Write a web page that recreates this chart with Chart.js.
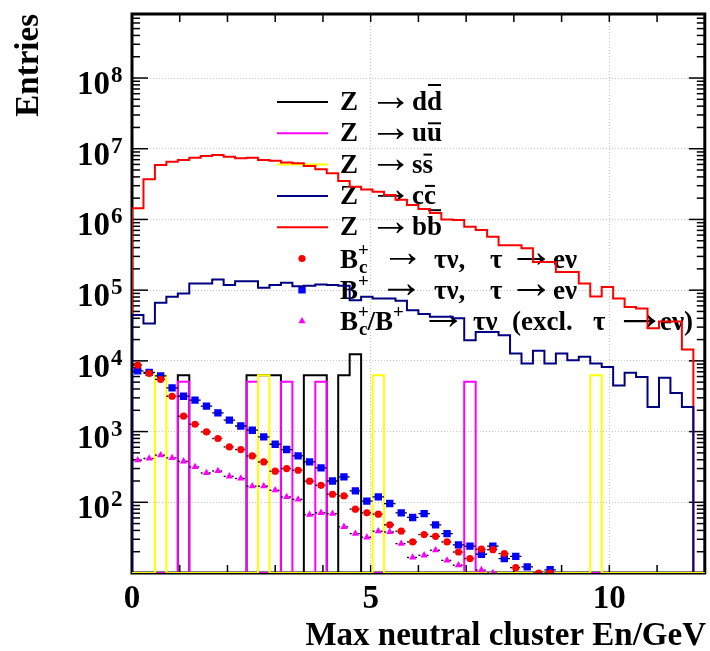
<!DOCTYPE html>
<html><head><meta charset="utf-8">
<script src="https://cdn.jsdelivr.net/npm/chart.js@4/dist/chart.umd.min.js"></script>
<style>html,body{margin:0;padding:0;background:#fff;}#wrap{width:710px;height:651px;}</style>
</head><body><div id="wrap"><canvas id="c" width="710" height="651"></canvas></div>
<script>
// ---------------- data ----------------
const X_MIN = 0, X_MAX = 12, BIN_WIDTH = 0.24;
const Y_MIN = 10, Y_MAX = 8.04e8;
const X_TICK_LABELS = [0, 5, 10];
const Y_TICK_EXPONENTS = [2, 3, 4, 5, 6, 7, 8];
const X_TITLE = 'Max neutral cluster En/GeV';
const Y_TITLE = 'Entries';

// Z -> d dbar
const zdd = [0,0,0,0,6280,0,0,0,0,0, 6280,6280,6280,0,0,6280,6280,0,6280,12400, 0,0,0,0,0,0,0,0,0,0, 0,0,0,0,0,0,0,0,0,0, 0,0,0,0,0,0,0,0,0,0];
// Z -> u ubar
const zuu = [0,0,0,0,5050,0,0,0,0,0, 5050,0,0,5050,0,0,5050,0,0,0, 0,0,0,0,0,0,0,0,0,5050, 0,0,0,0,0,0,0,0,0,0, 0,0,0,0,0,0,0,0,0,0];
// Z -> s sbar
const zss = [0,0,6280,0,0,0,0,0,0,0, 0,6280,0,0,0,0,0,0,0,0, 0,6280,0,0,0,0,0,0,0,0, 0,0,0,0,0,0,0,0,0,0, 6280,0,0,0,0,0,0,0,0,0];
// Z -> c cbar
const zcc = [4.44e4,3.38e4,6.62e4,8.05e4,9.0e4,1.245e5,1.245e5,1.42e5,1.18e5,1.34e5,
             1.34e5,1.08e5,1.18e5,1.27e5,1.14e5,1.15e5,1.2e5,1.18e5,1.15e5,7.2e4,
             8.05e4,7.6e4,7.6e4,7.1e4,5.2e4,4.6e4,4.2e4,4.2e4,4.0e4,1.95e4,
             2.57e4,2.57e4,2.31e4,1.27e4,9.2e3,1.39e4,9.2e3,1.27e4,1.02e4,1.14e4,
             9.2e3,8.2e3,4.5e3,6.8e3,5.9e3,2.23e3,5.75e3,3.5e3,2.23e3,0];
// Z -> b bbar
const zbb = [1.44e6,3.69e6,5.87e6,6.55e6,6.92e6,7.46e6,7.89e6,8.15e6,7.71e6,7.31e6,
             7.46e6,6.92e6,6.76e6,6.41e6,6.21e6,5.69e6,5.11e6,4.49e6,3.49e6,2.9e6,
             2.66e6,2.46e6,2.21e6,1.9e6,1.6e6,1.4e6,1.23e6,1.0e6,9.8e5,7.9e5,
             7.1e5,5.7e5,4.3e5,4.3e5,3.9e5,2.5e5,2.5e5,1.8e5,1.8e5,1.24e5,
             8.1e4,1.11e5,7.6e4,5.8e4,5.5e4,2.9e4,3.6e4,3.6e4,1.45e4,0];
// Bc+ -> tau nu, tau -> e nu   (per bin, null = empty)
const bcTauE = [8690,6640,5460,3160,1650,1270,989,798,607,557,
                453,372,275,300,284,199,174,130,123,80,
                71,68,48,39,27.5,35,33,27.5,19.8,16,
                21.7,21.4,18.8,11.9,null,10,10];
// B+ -> tau nu, tau -> e nu
const buTauE = [7230,6860,6140,4150,3160,2780,2290,1840,1450,1200,
                1045,841,662,557,453,372,306,200,229,145,
                104,119,96,71,61,69,48,36,25,24,
                18.4,24,16,17.2,12.2,null,11.1];
// Bc+/B+ -> tau nu (excl. tau -> e nu)
const bTauOther = [394,416,463,424,380,316,260,277,233,217,
                   169,169,148,119,110,67,71,69,45,36,
                   32,39,38,26,16.6,17.8,21,15.1,12.9,null,
                   11,10];

// ---------------- helpers ----------------
function histPoints(vals) {
  const pts = [{x: X_MIN, y: Y_MIN}];
  vals.forEach((v, i) => pts.push({x: X_MIN + i * BIN_WIDTH, y: v > 0 ? v : Y_MIN}));
  const last = vals[vals.length - 1];
  pts.push({x: X_MIN + vals.length * BIN_WIDTH, y: last > 0 ? last : Y_MIN});
  pts.push({x: X_MIN + vals.length * BIN_WIDTH, y: Y_MIN});
  return pts;
}
function markerPoints(vals) {
  return vals.map((v, i) => ({x: X_MIN + (i + 0.5) * BIN_WIDTH, y: v}));
}
function histDS(label, vals, color) {
  return {label, type: 'line', data: histPoints(vals), borderColor: color, borderWidth: 2,
          stepped: 'before', pointRadius: 0, fill: false, tension: 0};
}
function markerDS(label, vals, color, style, r, dash) {
  return {label, type: 'line', data: markerPoints(vals), showLine: false, pointStyle: style,
          pointRadius: r, backgroundColor: color, borderColor: color, borderWidth: 0,
          hbar: {dash}};
}

const FONT = '"Liberation Serif", "Times New Roman", serif';

const errBars = {
  id: 'errbars',
  beforeDatasetDraw(chart, args) {
    const ds = chart.data.datasets[args.index];
    if (!ds.hbar) return;
    const {ctx, chartArea: a, scales: {x, y}} = chart;
    ctx.save();
    ctx.beginPath(); ctx.rect(a.left, a.top, a.right - a.left, a.bottom - a.top); ctx.clip();
    ctx.strokeStyle = '#000'; ctx.lineWidth = 1.3; ctx.setLineDash(ds.hbar.dash);
    ds.data.forEach(p => {
      if (p.y == null) return;
      const py = y.getPixelForValue(p.y);
      ctx.beginPath();
      ctx.moveTo(x.getPixelForValue(p.x - BIN_WIDTH / 2), py);
      ctx.lineTo(x.getPixelForValue(p.x + BIN_WIDTH / 2), py);
      ctx.stroke();
    });
    ctx.restore();
  }
};

function seg(ctx, x1, y1, x2, y2) { ctx.beginPath(); ctx.moveTo(x1, y1); ctx.lineTo(x2, y2); ctx.stroke(); }
function txt(ctx, s, x, y, size, align) {
  ctx.font = `bold ${size}px ${FONT}`; ctx.textAlign = align || 'left'; ctx.fillText(s, x, y);
  return ctx.measureText(s).width;
}
// arrow glyph sized so that its ink spans `width` px, vertically centred on the row
function arrow(ctx, x, yc, width) {
  ctx.save();
  ctx.textAlign = 'left'; ctx.textBaseline = 'alphabetic';
  ctx.font = `bold 40px ${FONT}`;
  let m = ctx.measureText('→');
  let ink = (m.actualBoundingBoxRight + m.actualBoundingBoxLeft) || m.width * 0.8;
  const size = 40 * width / ink;
  ctx.font = `bold ${size}px ${FONT}`;
  m = ctx.measureText('→');
  const top = m.actualBoundingBoxAscent, bot = m.actualBoundingBoxDescent;
  const mid = (top - bot) / 2;          // glyph centre above baseline
  ctx.fillText('→', x + (m.actualBoundingBoxLeft || 0), yc + mid);
  ctx.restore();
}

const LEG = {x0: 277, x1: 328, xm: 302, xt: 340, y0: 102, dy: 31.3, fs: 27, sfs: 19};

const decor = {
  id: 'decor',
  beforeDatasetsDraw(chart) {
    const {ctx, chartArea: a, scales: {x, y}} = chart;
    ctx.save();
    ctx.strokeStyle = '#000'; ctx.fillStyle = '#000';
    // ticks
    ctx.lineWidth = 1.5;
    for (let v = Math.ceil(X_MIN) + 1; v < X_MAX; v++) {
      const px = x.getPixelForValue(v);
      seg(ctx, px, a.bottom, px, a.bottom - 8); seg(ctx, px, a.top, px, a.top + 8);
    }
    for (let e = 1; e <= 9; e++) for (let m = 1; m <= 9; m++) {
      const v = m * Math.pow(10, e);
      if (v <= Y_MIN || v >= Y_MAX) continue;
      const py = y.getPixelForValue(v), len = m === 1 ? 16 : 8;
      seg(ctx, a.left, py, a.left + len, py); seg(ctx, a.right, py, a.right - len, py);
    }
    // frame
    ctx.lineWidth = 3;
    ctx.strokeRect(a.left, a.top, a.right - a.left, a.bottom - a.top);
    // tick labels
    ctx.textBaseline = 'alphabetic';
    X_TICK_LABELS.forEach(v => txt(ctx, String(v), x.getPixelForValue(v), 608, 33, 'center'));
    Y_TICK_EXPONENTS.forEach(e => {
      const py = y.getPixelForValue(Math.pow(10, e));
      txt(ctx, '10', 110, py + 16, 33, 'right');
      txt(ctx, String(e), 111, py + 4, 23, 'left');
    });
    // titles
    txt(ctx, X_TITLE, 706, 645, 33, 'right');
    ctx.save(); ctx.translate(38, 14); ctx.rotate(-Math.PI / 2);
    txt(ctx, Y_TITLE, 0, 0, 33, 'right'); ctx.restore();

    // legend (drawn under the histograms, as in the original)
    const ds = chart.data.datasets;
    const rows = [
      {ds: 'Z → dd', q: 'd'}, {ds: 'Z → uu', q: 'u'}, {ds: 'Z → ss', q: 's'},
      {ds: 'Z → cc', q: 'c'}, {ds: 'Z → bb', q: 'b'}
    ];
    rows.forEach((r, k) => {
      const d = ds.find(z => z.label === r.ds);
      const yy = LEG.y0 + k * LEG.dy;
      ctx.strokeStyle = d.borderColor; ctx.lineWidth = 2; seg(ctx, LEG.x0, yy, LEG.x1, yy);
      ctx.fillStyle = '#000';
      const b = yy + 8;
      txt(ctx, 'Z', LEG.xt, b, LEG.fs);
      arrow(ctx, 377, yy, 26);
      const w1 = txt(ctx, r.q, 412, b, LEG.fs);
      const w2 = txt(ctx, r.q, 412 + w1, b, LEG.fs);
      const hi = (r.q === 'd' || r.q === 'b') ? 25 : 18;
      ctx.strokeStyle = '#000'; ctx.lineWidth = 2;
      seg(ctx, 412 + w1 + 1, b - hi, 412 + w1 + w2 - 1, b - hi);
    });
    // marker rows
    const mk = ['Bc+ → τν, τ → eν', 'B+ → τν, τ → eν', 'Bc+/B+ → τν (excl. τ → eν)'];
    mk.forEach((lab, k) => {
      const d = ds.find(z => z.label === lab);
      const yy = LEG.y0 + (5 + k) * LEG.dy;
      ctx.fillStyle = d.backgroundColor;
      Chart.helpers.drawPoint(ctx, {pointStyle: d.pointStyle, radius: d.pointRadius, borderWidth: 0, rotation: 0}, LEG.xm, yy);
      ctx.fillStyle = '#000';
      const b = yy + 9;
      if (k === 0) {
        const wB = txt(ctx, 'B', LEG.xt, b, LEG.fs);
        txt(ctx, '+', LEG.xt + wB, b - 12, LEG.sfs);
        txt(ctx, 'c', LEG.xt + wB + 1, b + 5, LEG.sfs);
        arrow(ctx, 389, yy, 26);
        txt(ctx, 'τν,', 434, b, LEG.fs);
        txt(ctx, 'τ', 490, b, LEG.fs);
        arrow(ctx, 517, yy, 28);
        txt(ctx, 'eν', 553, b, LEG.fs);
      } else if (k === 1) {
        const wB = txt(ctx, 'B', LEG.xt, b, LEG.fs);
        txt(ctx, '+', LEG.xt + wB, b - 12, LEG.sfs);
        arrow(ctx, 388, yy, 27);
        txt(ctx, 'τν,', 434, b, LEG.fs);
        txt(ctx, 'τ', 490, b, LEG.fs);
        arrow(ctx, 517, yy, 28);
        txt(ctx, 'eν', 553, b, LEG.fs);
      } else {
        let xx = LEG.xt;
        xx += txt(ctx, 'B', xx, b, LEG.fs);
        txt(ctx, '+', xx, b - 12, LEG.sfs);
        const wc = txt(ctx, 'c', xx + 1, b + 5, LEG.sfs);
        xx += wc + 1;
        xx += txt(ctx, '/B', xx, b, LEG.fs);
        txt(ctx, '+', xx, b - 12, LEG.sfs);
        arrow(ctx, 429, yy, 28);
        txt(ctx, 'τν', 473, b, LEG.fs);
        txt(ctx, '(excl.', 512, b, LEG.fs);
        txt(ctx, 'τ', 593, b, LEG.fs);
        arrow(ctx, 623, yy, 32);
        txt(ctx, 'eν)', 660, b, LEG.fs);
      }
    });
    ctx.restore();
  }
};

const datasets = [
  markerDS('Bc+ → τν, τ → eν', bcTauE, '#ff0000', 'circle', 3.6, [2, 2]),
  markerDS('B+ → τν, τ → eν', buTauE, '#0000ff', 'rect', 5.2, []),
  markerDS('Bc+/B+ → τν (excl. τ → eν)', bTauOther, '#ff00ff', 'triangle', 4.2, [2, 2]),
  histDS('Z → ss', zss, '#ffff00'),
  histDS('Z → cc', zcc, '#000080'),
  histDS('Z → bb', zbb, '#ff0000'),
  histDS('Z → uu', zuu, '#ff00ff'),
  histDS('Z → dd', zdd, '#000000'),
];

new Chart(document.getElementById('c'), {
  type: 'line',
  data: {datasets},
  plugins: [decor, errBars],
  options: {
    responsive: false, animation: false, devicePixelRatio: 1,
    layout: {padding: {left: 0, top: 14, right: 4, bottom: 0}},
    plugins: {legend: {display: false}, tooltip: {enabled: false}},
    scales: {
      x: {type: 'linear', min: X_MIN, max: X_MAX,
          ticks: {display: false, stepSize: 1},
          grid: {drawTicks: false, lineWidth: 1,
                 color: c => (c.tick && (c.tick.value === 5 || c.tick.value === 10)) ? '#c4c4c4' : 'rgba(0,0,0,0)'},
          border: {display: false, dash: [1, 2]},
          afterFit: s => { s.height = 78; }},
      y: {type: 'logarithmic', min: Y_MIN, max: Y_MAX,
          ticks: {display: false},
          grid: {drawTicks: false, lineWidth: 1,
                 color: c => {
                   const v = c.tick && c.tick.value; if (!v) return 'rgba(0,0,0,0)';
                   const l = Math.log10(v);
                   return (Math.abs(l - Math.round(l)) < 1e-6 && l > 1.5) ? '#c4c4c4' : 'rgba(0,0,0,0)';
                 }},
          border: {display: false, dash: [1, 2]},
          afterFit: s => { s.width = 132; }}
    }
  }
});
</script></body></html>
